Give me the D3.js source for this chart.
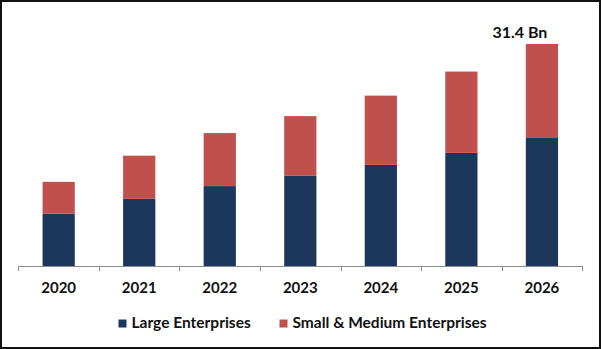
<!DOCTYPE html>
<html>
<head>
<meta charset="utf-8">
<script src="https://cdn.jsdelivr.net/npm/d3@7/dist/d3.min.js"></script>
<style>
  html, body { margin: 0; padding: 0; background: #fff; }
  svg { display: block; font-family: Lato, "Open Sans", sans-serif; }
</style>
</head>
<body>
<svg id="chart" width="601" height="349"></svg>
<script>
// Market size by enterprise size (USD Bn)
const years = ["2020", "2021", "2022", "2023", "2024", "2025", "2026"];
const largeEnterprises = [7.4, 9.5, 11.3, 12.8, 14.3, 16.0, 18.1];
const smallMediumEnterprises = [4.5, 6.1, 7.5, 8.4, 9.8, 11.5, 13.3];
const seriesNames = ["Large Enterprises", "Small & Medium Enterprises"];
const seriesColors = ["#1d375c", "#c0504d"];
const totalLabel = "31.4 Bn";

const W = 601, H = 349;
const svg = d3.select("#chart");

const rows = years.map((y, i) => ({
  year: y,
  large: largeEnterprises[i],
  small: smallMediumEnterprises[i]
}));

const x = d3.scaleBand().domain(years).range([18.4, 582.2])
  .paddingInner(0.6).paddingOuter(0.3);
const y = d3.scaleLinear().domain([0, 31.4]).range([266, 44]);

const stack = d3.stack().keys(["large", "small"]);
const layers = stack(rows);

svg.append("g").selectAll("g")
  .data(layers)
  .join("g")
  .attr("fill", (d, i) => seriesColors[i])
  .selectAll("rect")
  .data(d => d)
  .join("rect")
  .attr("x", d => x(d.data.year))
  .attr("width", x.bandwidth())
  .attr("y", d => y(d[1]))
  .attr("height", d => y(d[0]) - y(d[1]));

// Category axis: baseline with tick marks at band boundaries
const axisG = svg.append("g");
const x0 = x.range()[0], x1 = x.range()[1];
axisG.append("line")
  .attr("x1", x0).attr("x2", x1)
  .attr("y1", y(0) + 0.5).attr("y2", y(0) + 0.5)
  .attr("stroke", "#8c8c8c").attr("stroke-width", 1);
const bounds = d3.range(years.length + 1).map(i => x0 + i * (x1 - x0) / years.length);
axisG.selectAll("line.tick")
  .data(bounds)
  .join("line")
  .attr("class", "tick")
  .attr("x1", d => Math.round(d) + 0.5).attr("x2", d => Math.round(d) + 0.5)
  .attr("y1", y(0)).attr("y2", y(0) + 5)
  .attr("stroke", "#8c8c8c").attr("stroke-width", 1);
axisG.selectAll("text")
  .data(years)
  .join("text")
  .attr("x", d => x(d) + x.bandwidth() / 2)
  .attr("y", 293)
  .attr("text-anchor", "middle")
  .attr("font-size", 15)
  .attr("font-weight", "bold")
  .attr("fill", "#111")
  .text(d => d);

// Total label above the last bar
const last = rows[rows.length - 1];
svg.append("text")
  .attr("x", x(last.year) + x.bandwidth() / 2 - 22)
  .attr("y", 38)
  .attr("text-anchor", "middle")
  .attr("font-size", 16)
  .attr("font-weight", "bold")
  .attr("fill", "#111")
  .text(totalLabel);

// Legend
const legendX = [118.5, 279.5];
const legend = svg.append("g");
seriesNames.forEach((name, i) => {
  legend.append("rect")
    .attr("x", legendX[i]).attr("y", 319.5)
    .attr("width", 8).attr("height", 8)
    .attr("fill", seriesColors[i]);
  legend.append("text")
    .attr("x", legendX[i] + 13).attr("y", 328)
    .attr("font-size", 15.5)
    .attr("font-weight", "bold")
    .attr("fill", "#111")
    .text(name);
});

// Frame
svg.append("rect")
  .attr("x", 1).attr("y", 1)
  .attr("width", W - 2).attr("height", H - 2)
  .attr("fill", "none")
  .attr("stroke", "#111").attr("stroke-width", 2);
</script>
</body>
</html>
